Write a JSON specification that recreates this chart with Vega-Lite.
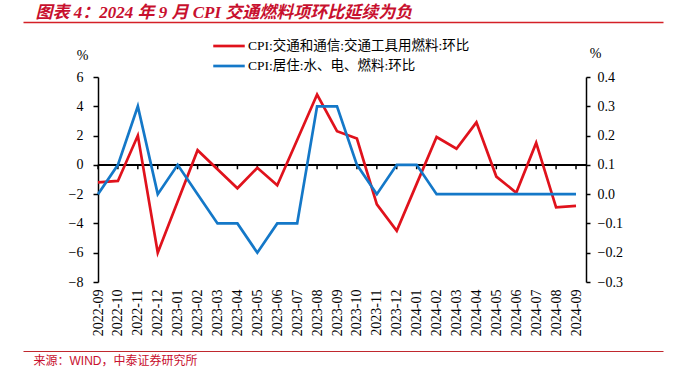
{
  "$schema": "https://vega.github.io/schema/vega-lite/v6.json",
  "autosize": "none",
  "width": 488,
  "height": 205,
  "padding": {"left": 98, "top": 77, "right": 89, "bottom": 93},
  "background": "white",
  "config": {"view": {"stroke": null}},
  "data": {"values": [
    {"m": "2022-09", "s": "CPI:交通和通信:交通工具用燃料:环比", "v": -1.2},
    {"m": "2022-10", "s": "CPI:交通和通信:交通工具用燃料:环比", "v": -1.1},
    {"m": "2022-11", "s": "CPI:交通和通信:交通工具用燃料:环比", "v": 2.0},
    {"m": "2022-12", "s": "CPI:交通和通信:交通工具用燃料:环比", "v": -6.0},
    {"m": "2023-01", "s": "CPI:交通和通信:交通工具用燃料:环比", "v": -2.5},
    {"m": "2023-02", "s": "CPI:交通和通信:交通工具用燃料:环比", "v": 1.0},
    {"m": "2023-03", "s": "CPI:交通和通信:交通工具用燃料:环比", "v": -0.3},
    {"m": "2023-04", "s": "CPI:交通和通信:交通工具用燃料:环比", "v": -1.6},
    {"m": "2023-05", "s": "CPI:交通和通信:交通工具用燃料:环比", "v": -0.2},
    {"m": "2023-06", "s": "CPI:交通和通信:交通工具用燃料:环比", "v": -1.4},
    {"m": "2023-07", "s": "CPI:交通和通信:交通工具用燃料:环比", "v": 1.7},
    {"m": "2023-08", "s": "CPI:交通和通信:交通工具用燃料:环比", "v": 4.8},
    {"m": "2023-09", "s": "CPI:交通和通信:交通工具用燃料:环比", "v": 2.3},
    {"m": "2023-10", "s": "CPI:交通和通信:交通工具用燃料:环比", "v": 1.8},
    {"m": "2023-11", "s": "CPI:交通和通信:交通工具用燃料:环比", "v": -2.7},
    {"m": "2023-12", "s": "CPI:交通和通信:交通工具用燃料:环比", "v": -4.5},
    {"m": "2024-01", "s": "CPI:交通和通信:交通工具用燃料:环比", "v": -1.3},
    {"m": "2024-02", "s": "CPI:交通和通信:交通工具用燃料:环比", "v": 1.9},
    {"m": "2024-03", "s": "CPI:交通和通信:交通工具用燃料:环比", "v": 1.1},
    {"m": "2024-04", "s": "CPI:交通和通信:交通工具用燃料:环比", "v": 2.9},
    {"m": "2024-05", "s": "CPI:交通和通信:交通工具用燃料:环比", "v": -0.8},
    {"m": "2024-06", "s": "CPI:交通和通信:交通工具用燃料:环比", "v": -1.9},
    {"m": "2024-07", "s": "CPI:交通和通信:交通工具用燃料:环比", "v": 1.5},
    {"m": "2024-08", "s": "CPI:交通和通信:交通工具用燃料:环比", "v": -2.9},
    {"m": "2024-09", "s": "CPI:交通和通信:交通工具用燃料:环比", "v": -2.8},
    {"m": "2022-09", "s": "CPI:居住:水、电、燃料:环比", "v": 0.0},
    {"m": "2022-10", "s": "CPI:居住:水、电、燃料:环比", "v": 0.1},
    {"m": "2022-11", "s": "CPI:居住:水、电、燃料:环比", "v": 0.3},
    {"m": "2022-12", "s": "CPI:居住:水、电、燃料:环比", "v": 0.0},
    {"m": "2023-01", "s": "CPI:居住:水、电、燃料:环比", "v": 0.1},
    {"m": "2023-02", "s": "CPI:居住:水、电、燃料:环比", "v": 0.0},
    {"m": "2023-03", "s": "CPI:居住:水、电、燃料:环比", "v": -0.1},
    {"m": "2023-04", "s": "CPI:居住:水、电、燃料:环比", "v": -0.1},
    {"m": "2023-05", "s": "CPI:居住:水、电、燃料:环比", "v": -0.2},
    {"m": "2023-06", "s": "CPI:居住:水、电、燃料:环比", "v": -0.1},
    {"m": "2023-07", "s": "CPI:居住:水、电、燃料:环比", "v": -0.1},
    {"m": "2023-08", "s": "CPI:居住:水、电、燃料:环比", "v": 0.3},
    {"m": "2023-09", "s": "CPI:居住:水、电、燃料:环比", "v": 0.3},
    {"m": "2023-10", "s": "CPI:居住:水、电、燃料:环比", "v": 0.1},
    {"m": "2023-11", "s": "CPI:居住:水、电、燃料:环比", "v": 0.0},
    {"m": "2023-12", "s": "CPI:居住:水、电、燃料:环比", "v": 0.1},
    {"m": "2024-01", "s": "CPI:居住:水、电、燃料:环比", "v": 0.1},
    {"m": "2024-02", "s": "CPI:居住:水、电、燃料:环比", "v": 0.0},
    {"m": "2024-03", "s": "CPI:居住:水、电、燃料:环比", "v": 0.0},
    {"m": "2024-04", "s": "CPI:居住:水、电、燃料:环比", "v": 0.0},
    {"m": "2024-05", "s": "CPI:居住:水、电、燃料:环比", "v": 0.0},
    {"m": "2024-06", "s": "CPI:居住:水、电、燃料:环比", "v": 0.0},
    {"m": "2024-07", "s": "CPI:居住:水、电、燃料:环比", "v": 0.0},
    {"m": "2024-08", "s": "CPI:居住:水、电、燃料:环比", "v": 0.0},
    {"m": "2024-09", "s": "CPI:居住:水、电、燃料:环比", "v": 0.0}
  ]},
  "layer": [
    {
      "transform": [{"filter": "datum.s === 'CPI:交通和通信:交通工具用燃料:环比'"}],
      "encoding": {
        "x": {"field": "m", "type": "ordinal", "sort": null,
          "scale": {"type": "point", "range": [0, 478], "padding": 0},
          "axis": {"orient": "bottom", "title": null, "domain": false, "ticks": false, "tickSize": 0,
            "labelPadding": 7, "labelAngle": -90, "labelAlign": "right", "labelBaseline": "middle",
            "labelFont": "Liberation Serif", "labelFontSize": 14, "labelColor": "#000000", "labelOverlap": false}}
      },
      "layer": [
        {"mark": {"type": "rule", "color": "#000000", "strokeWidth": 1.5},
         "encoding": {"x": null, "y": {"datum": 0, "type": "quantitative",
             "scale": {"domain": [-8, 6], "nice": false, "zero": false},
             "axis": {"orient": "left", "values": [-8, -6, -4, -2, 0, 2, 4, 6], "grid": false, "labelOverlap": false,
               "domainColor": "#000000", "domainWidth": 1.5, "tickColor": "#000000", "tickWidth": 1.5, "tickSize": 5,
               "labelPadding": 10, "labelFont": "Liberation Serif", "labelFontSize": 14, "labelColor": "#000000",
               "title": "%", "titleAngle": 0, "titleX": -16, "titleY": -22, "titleAlign": "center", "titleBaseline": "middle",
               "titleFont": "Liberation Serif", "titleFontSize": 14, "titleFontWeight": "normal", "titleColor": "#000000"}}}},
        {"mark": {"type": "rule", "color": "#000000", "strokeWidth": 1.5},
         "encoding": {"y": {"datum": 0, "type": "quantitative",
             "scale": {"domain": [-8, 6], "nice": false, "zero": false},
             "axis": {"orient": "left", "values": [-8, -6, -4, -2, 0, 2, 4, 6], "grid": false, "labelOverlap": false,
               "domainColor": "#000000", "domainWidth": 1.5, "tickColor": "#000000", "tickWidth": 1.5, "tickSize": 5,
               "labelPadding": 10, "labelFont": "Liberation Serif", "labelFontSize": 14, "labelColor": "#000000",
               "title": "%", "titleAngle": 0, "titleX": -16, "titleY": -22, "titleAlign": "center", "titleBaseline": "middle",
               "titleFont": "Liberation Serif", "titleFontSize": 14, "titleFontWeight": "normal", "titleColor": "#000000"}},
           "y2": {"datum": -0.3}}},
        {"mark": {"type": "line", "strokeWidth": 2.7},
         "encoding": {
           "y": {"field": "v", "type": "quantitative",
             "scale": {"domain": [-8, 6], "nice": false, "zero": false},
             "axis": {"orient": "left", "values": [-8, -6, -4, -2, 0, 2, 4, 6], "grid": false, "labelOverlap": false,
               "domainColor": "#000000", "domainWidth": 1.5, "tickColor": "#000000", "tickWidth": 1.5, "tickSize": 5,
               "labelPadding": 10, "labelFont": "Liberation Serif", "labelFontSize": 14, "labelColor": "#000000",
               "title": "%", "titleAngle": 0, "titleX": -16, "titleY": -22, "titleAlign": "center", "titleBaseline": "middle",
               "titleFont": "Liberation Serif", "titleFontSize": 14, "titleFontWeight": "normal", "titleColor": "#000000"}},
           "color": {"field": "s", "type": "nominal",
             "scale": {"domain": ["CPI:交通和通信:交通工具用燃料:环比", "CPI:居住:水、电、燃料:环比"], "range": ["#e0121c", "#1478c8"]},
             "legend": {"orient": "none", "legendX": 119, "legendY": -43, "title": null, "padding": 0,
               "symbolType": "M-1.5,0H1.5", "symbolSize": 441, "symbolStrokeWidth": 2.7, "rowPadding": 1,
               "labelOffset": 7, "labelFont": "Liberation Serif, Noto Sans CJK SC", "labelFontSize": 13.5,
               "labelColor": "#000000", "labelLimit": 400}}
         }}
      ]
    },
    {
      "transform": [{"filter": "datum.s === 'CPI:居住:水、电、燃料:环比'"}],
      "mark": {"type": "line", "strokeWidth": 2.7},
      "encoding": {
        "x": {"field": "m", "type": "ordinal", "sort": null,
          "scale": {"type": "point", "range": [0, 478], "padding": 0}, "axis": null},
        "y": {"field": "v", "type": "quantitative",
          "scale": {"domain": [-0.3, 0.4], "nice": false, "zero": false},
          "axis": {"orient": "right", "values": [-0.3, -0.2, -0.1, 0, 0.1, 0.2, 0.3, 0.4], "format": ".1f", "grid": false, "labelOverlap": false,
            "domainColor": "#000000", "domainWidth": 1.5, "tickColor": "#000000", "tickWidth": 1.5, "tickSize": 4,
            "labelPadding": 7, "labelFont": "Liberation Serif", "labelFontSize": 14, "labelColor": "#000000",
            "title": "%", "titleAngle": 0, "titleX": 9, "titleY": -24, "titleAlign": "center", "titleBaseline": "middle",
            "titleFont": "Liberation Serif", "titleFontSize": 14, "titleFontWeight": "normal", "titleColor": "#000000"}},
        "color": {"field": "s", "type": "nominal"}
      }
    },
    {
      "transform": [{"filter": "datum.s === 'CPI:居住:水、电、燃料:环比'"}],
      "mark": {"type": "point", "opacity": 0},
      "encoding": {
        "x": {"field": "m", "type": "ordinal", "sort": null,
          "scale": {"type": "point", "range": [-75, 565], "padding": 0},
          "axis": {"orient": "top", "offset": 55, "domain": true, "domainColor": "#d42027", "domainWidth": 1.5,
            "ticks": false, "labels": false,
            "title": "图表 4：2024 年 9 月 CPI 交通燃料项环比延续为负",
            "titleX": -63, "titleY": -10, "titleAlign": "left", "titleAnchor": "start", "titleBaseline": "middle",
            "titleFont": "Liberation Serif, Noto Sans CJK SC", "titleFontSize": 17, "titleFontWeight": "bold",
            "titleFontStyle": "italic", "titleColor": "#c8102e"}}
      }
    },
    {
      "transform": [{"filter": "datum.s === 'CPI:居住:水、电、燃料:环比'"}],
      "mark": {"type": "point", "opacity": 0},
      "encoding": {
        "x": {"field": "m", "type": "ordinal", "sort": null,
          "scale": {"type": "point", "range": [-75, 565], "padding": 0},
          "axis": {"orient": "bottom", "offset": 69, "domain": true, "domainColor": "#c0282e", "domainWidth": 1.2,
            "ticks": false, "labels": false,
            "title": "来源：WIND，中泰证券研究所",
            "titleX": -65, "titleY": 9, "titleAlign": "left", "titleAnchor": "start", "titleBaseline": "middle",
            "titleFont": "Liberation Sans, Noto Sans CJK SC", "titleFontSize": 12, "titleFontWeight": "normal",
            "titleColor": "#c8102e"}}
      }
    }
  ],
  "resolve": {"scale": {"x": "independent", "y": "independent"}, "axis": {"x": "independent", "y": "independent"}}
}
